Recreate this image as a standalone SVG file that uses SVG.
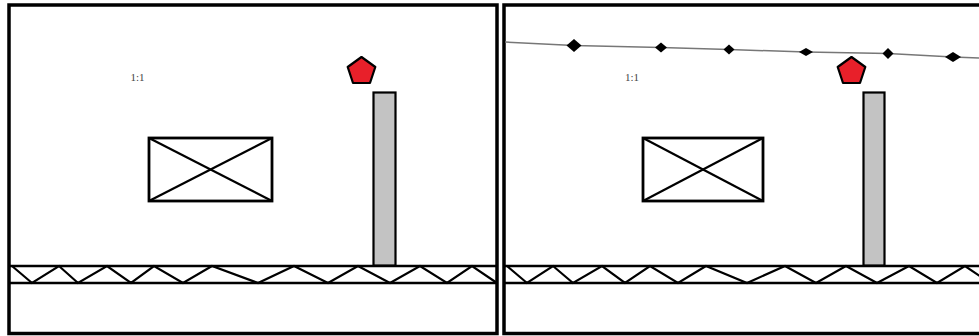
<svg xmlns="http://www.w3.org/2000/svg" width="979" height="336" viewBox="0 0 979 336">
<style>
.frame{fill:#fff;stroke:#000;stroke-width:3.5}
.chord{stroke:#000;stroke-width:2.4;fill:none}
.web{stroke:#000;stroke-width:2.2;fill:none;stroke-linejoin:miter}
.box{fill:#fff;stroke:#000;stroke-width:2.8}
.xline{stroke:#000;stroke-width:2.2}
.pillar{fill:#c3c3c3;stroke:#000;stroke-width:2.2}
.pent{fill:#e8202a;stroke:#000;stroke-width:2.2;stroke-linejoin:round}
.lbl{font-family:"Liberation Serif",serif;font-size:11px;fill:#444}
.rail{stroke:#777;stroke-width:1.5;fill:none}
.dia{fill:#000}
</style>
<rect width="979" height="336" fill="#fff"/>
<g id="panel-left">
<rect class="frame" x="9" y="5" width="488" height="328.5"/>
<g id="truss-left">
<line class="chord" x1="9" y1="266" x2="497" y2="266"/>
<line class="chord" x1="9" y1="283" x2="497" y2="283"/>
<polyline class="web" points="12,266 32,283 59,266 78,283 107,266 131,283 154,266 183,283 212,266 258,283 294,266 328,283 358,266 390,283 420,266 447,283 472,266 497,283"/>
</g>
<g id="box-left">
<rect class="box" x="149" y="138" width="123" height="63"/>
<line class="xline" x1="149" y1="138" x2="272" y2="201"/>
<line class="xline" x1="272" y1="138" x2="149" y2="201"/>
</g>
<rect id="pillar-left" class="pillar" x="373.5" y="92.5" width="22" height="173"/>
<polygon id="marker-left" class="pent" points="361.5,57 375.3,67 370,83 353,83 347.7,67"/>
<text id="label-left" class="lbl" x="137.5" y="81" text-anchor="middle">1:1</text>
</g>
<g id="panel-right">
<rect class="frame" x="504" y="5" width="490" height="328.5"/>
<g id="truss-right">
<line class="chord" x1="504" y1="266" x2="979" y2="266"/>
<line class="chord" x1="504" y1="283" x2="979" y2="283"/>
<polyline class="web" points="507,266 527,283 553,266 573,283 602,266 625,283 650,266 678,283 706,266 747,283 785,266 816,283 846,266 877,283 909,266 937,283 965,266 990,283"/>
</g>
<g id="box-right">
<rect class="box" x="643" y="138" width="120" height="63"/>
<line class="xline" x1="643" y1="138" x2="763" y2="201"/>
<line class="xline" x1="763" y1="138" x2="643" y2="201"/>
</g>
<rect id="pillar-right" class="pillar" x="863.5" y="92.5" width="21" height="173"/>
<polygon id="marker-right" class="pent" points="851.5,57 865.3,67 860,83 843,83 837.7,67"/>
<text id="label-right" class="lbl" x="632" y="81" text-anchor="middle">1:1</text>
<g id="rail">
<polyline class="rail" points="505,42 574,45.5 661,47.5 729,49.5 806,52 888,53.5 953,57 979,58"/>
<polygon class="dia" points="574,39 581.5,45.5 574,52 566.5,45.5"/>
<polygon class="dia" points="661,42.5 667,47.5 661,52.5 655,47.5"/>
<polygon class="dia" points="729,44.5 734.5,49.5 729,54.5 723.5,49.5"/>
<polygon class="dia" points="806,48 813,52 806,56 799,52"/>
<polygon class="dia" points="888,48 893.5,53.5 888,59 882.5,53.5"/>
<polygon class="dia" points="953,52 961,57 953,62 945,57"/>
</g>
</g>
</svg>
